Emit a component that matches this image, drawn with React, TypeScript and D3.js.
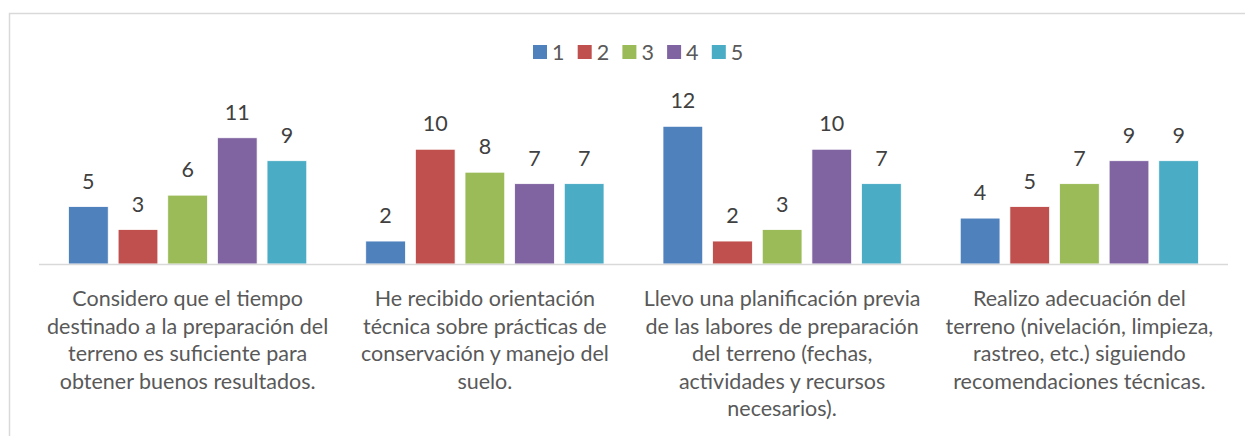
import React from "react";
import * as d3 from "d3";

const categories = ["c1", "c2", "c3", "c4"];
const categoryLines: string[][] = [
  ["Considero que el tiempo", "destinado a la preparación del", "terreno es suficiente para", "obtener buenos resultados."],
  ["He recibido orientación", "técnica sobre prácticas de", "conservación y manejo del", "suelo."],
  ["Llevo una planificación previa", "de las labores de preparación", "del terreno (fechas,", "actividades y recursos", "necesarios)."],
  ["Realizo adecuación del", "terreno (nivelación, limpieza,", "rastreo, etc.) siguiendo", "recomendaciones técnicas."],
];
const seriesNames = ["1", "2", "3", "4", "5"];
const series1 = [5, 2, 12, 4];
const series2 = [3, 10, 2, 5];
const series3 = [6, 8, 3, 7];
const series4 = [11, 7, 10, 9];
const series5 = [9, 7, 7, 9];
const seriesValues = [series1, series2, series3, series4, series5];
const colors = ["#4F81BD", "#C0504D", "#9BBB59", "#8064A2", "#4BACC6"];

const W = 1245;
const H = 436;
const FONT = "Lato, 'Liberation Sans', sans-serif";
const FS = 21.5;

export default function App() {
  const plotLeft = 39;
  const plotRight = 1228;
  const baseY = 264;
  const x = d3.scaleBand<string>().domain(categories).range([plotLeft, plotRight]).padding(0);
  const groupPad = 29.5;
  const xi = d3
    .scaleBand<string>()
    .domain(seriesNames)
    .range([groupPad, x.bandwidth() - groupPad])
    .paddingInner(0.2)
    .paddingOuter(0);
  const y = d3.scaleLinear().domain([0, 12]).range([baseY, 126.3]);

  const legendX = d3.scaleBand<string>().domain(seriesNames).range([533, 533 + 5 * 44.7]);

  return (
    <svg
      width={W}
      height={H}
      style={{ position: "absolute", left: 0, top: 0, background: "#fff" }}
      fontFamily={FONT}
    >
      <rect x={9.5} y={13.5} width={W} height={H} fill="#fff" stroke="#D9D9D9" strokeWidth={1.5} />
      {/* legend */}
      {seriesNames.map((s, i) => (
        <g key={s} transform={`translate(${legendX(s)},0)`}>
          <rect x={0} y={45} width={14} height={14} fill={colors[i]} />
          <text x={19} y={59.5} fontSize={FS} fill="#595959">
            {s}
          </text>
        </g>
      ))}
      {/* bars */}
      {categories.map((c, ci) => (
        <g key={c} transform={`translate(${x(c)},0)`}>
          {seriesNames.map((s, si) => {
            const v = seriesValues[si][ci];
            const bx = xi(s)!;
            const top = y(v);
            return (
              <g key={s}>
                <rect
                  x={bx}
                  y={top}
                  width={xi.bandwidth()}
                  height={baseY - top}
                  fill={colors[si]}
                  stroke="#fff"
                  strokeWidth={0.75}
                />
                <text
                  x={bx + xi.bandwidth() / 2}
                  y={top - 18}
                  textAnchor="middle"
                  fontSize={FS}
                  fill="#404040"
                >
                  {v}
                </text>
              </g>
            );
          })}
          {categoryLines[ci].map((line, li) => (
            <text
              key={li}
              x={x.bandwidth() / 2}
              y={306 + li * 27.5}
              textAnchor="middle"
              fontSize={FS}
              fill="#595959"
            >
              {line}
            </text>
          ))}
        </g>
      ))}
      <line x1={plotLeft} x2={plotRight} y1={baseY + 0.5} y2={baseY + 0.5} stroke="#D9D9D9" strokeWidth={1.5} />
    </svg>
  );
}
